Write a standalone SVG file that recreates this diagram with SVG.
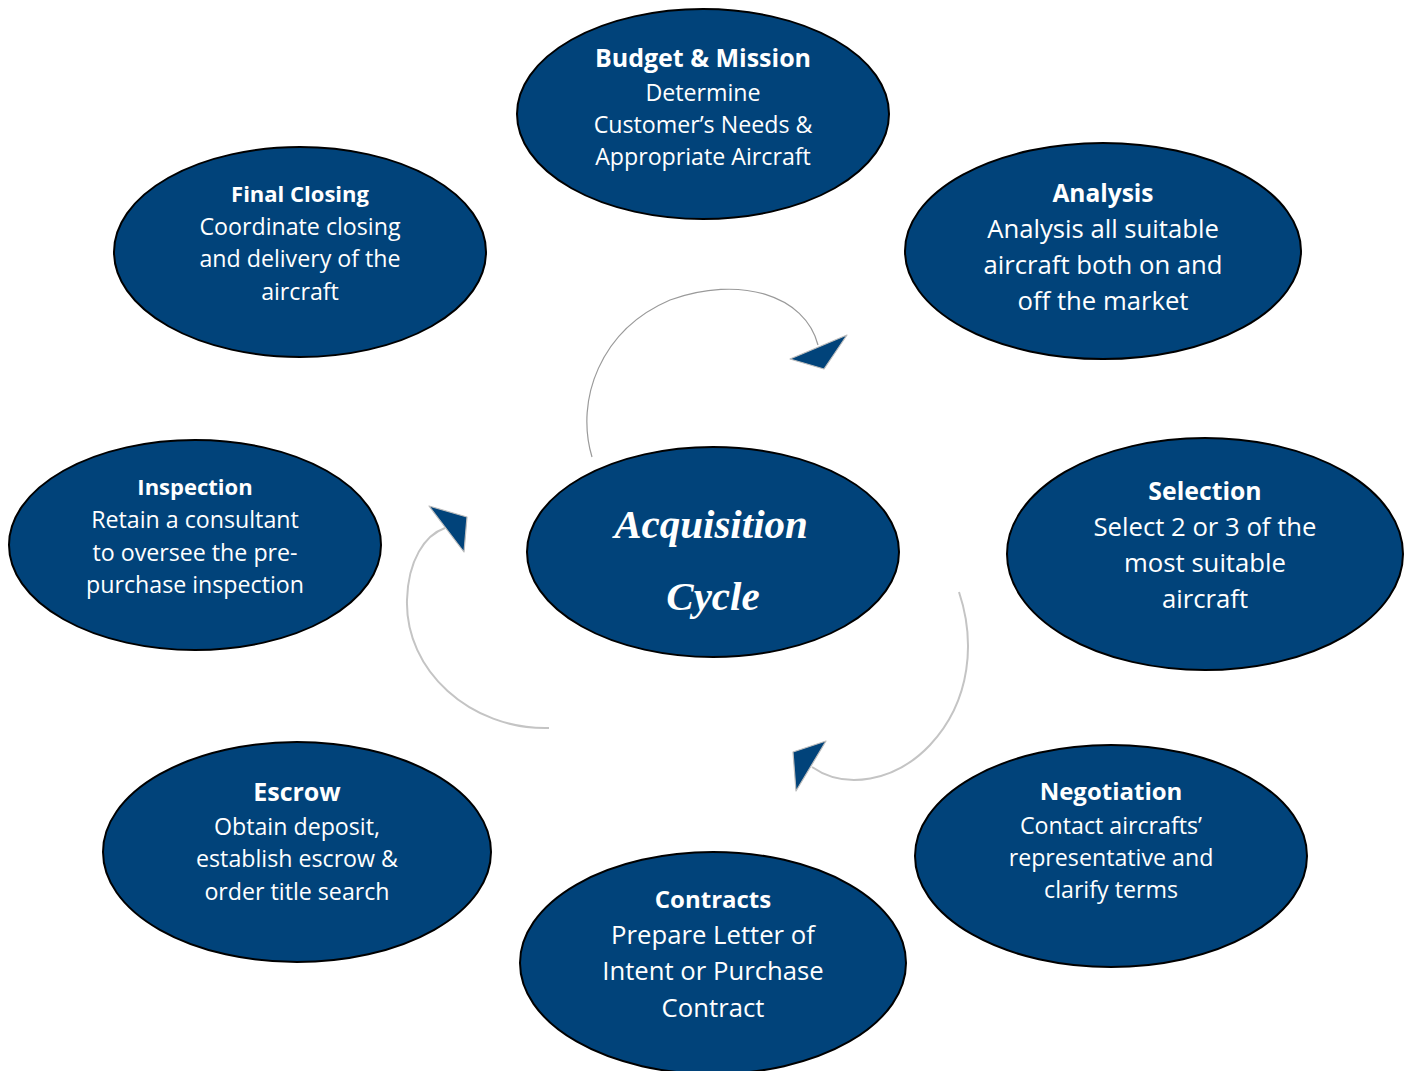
<svg xmlns="http://www.w3.org/2000/svg" width="1410" height="1071" viewBox="0 0 1410 1071">
<style>
.node{fill:#01437A;stroke:#000;stroke-width:2}
.t{font-family:"Open Sans",Lato,sans-serif;fill:#fff;text-anchor:middle}
.s{font-size:23.2px}
.m{font-size:25.7px}
.b{font-weight:bold}
.c{font-family:"Liberation Serif",serif;font-style:italic;font-weight:bold;font-size:41px;fill:#fff;text-anchor:middle}
.arc1{fill:none;stroke:#9a9a9a;stroke-width:1.2}
.arc2{fill:none;stroke:#c4c4c4;stroke-width:2}
.head{fill:#01437A;stroke:#bdbdbd;stroke-width:1.2;stroke-linejoin:round}
</style>
<rect width="1410" height="1071" fill="#fff"/>
<g id="connectors">
<path class="arc1" d="M592,457 C575,400 600,330 670,300 C740,275 805,295 818,345"/>
<polygon class="head" points="790,359 847,335 824,369"/>
<path class="arc2" d="M549,728 C470,730 405,670 407,600 C408,560 425,535 445,528"/>
<polygon class="head" points="429,506 467,517 464,552"/>
<path class="arc2" d="M959,592 C975,640 972,700 930,745 C895,782 845,790 812,767"/>
<polygon class="head" points="793,752 826,741 796,791"/>
</g>
<g id="budget">
<ellipse class="node" cx="703" cy="114" rx="186" ry="105"/>
<text class="t b" x="703" y="67" font-size="25">Budget &amp; Mission</text>
<text class="t s" x="703" y="101">Determine</text>
<text class="t s" x="703" y="133">Customer’s Needs &amp;</text>
<text class="t s" x="703" y="165">Appropriate Aircraft</text>
</g>
<g id="analysis">
<ellipse class="node" cx="1103" cy="251" rx="198" ry="108"/>
<text class="t b" x="1103" y="202" font-size="24.5">Analysis</text>
<text class="t m" x="1103" y="238">Analysis all suitable</text>
<text class="t m" x="1103" y="274">aircraft both on and</text>
<text class="t m" x="1103" y="310">off the market</text>
</g>
<g id="final-closing">
<ellipse class="node" cx="300" cy="252" rx="186" ry="105"/>
<text class="t b" x="300" y="202" font-size="22">Final Closing</text>
<text class="t s" x="300" y="235">Coordinate closing</text>
<text class="t s" x="300" y="267">and delivery of the</text>
<text class="t s" x="300" y="300">aircraft</text>
</g>
<g id="inspection">
<ellipse class="node" cx="195" cy="545" rx="186" ry="105"/>
<text class="t b" x="195" y="495" font-size="22">Inspection</text>
<text class="t s" x="195" y="528">Retain a consultant</text>
<text class="t s" x="195" y="561">to oversee the pre-</text>
<text class="t s" x="195" y="593">purchase inspection</text>
</g>
<g id="center">
<ellipse class="node" cx="713" cy="552" rx="186" ry="105"/>
<text class="c" x="711" y="538">Acquisition</text>
<text class="c" x="713" y="610">Cycle</text>
</g>
<g id="selection">
<ellipse class="node" cx="1205" cy="554" rx="198" ry="116"/>
<text class="t b" x="1205" y="500" font-size="24.8">Selection</text>
<text class="t m" x="1205" y="536">Select 2 or 3 of the</text>
<text class="t m" x="1205" y="572">most suitable</text>
<text class="t m" x="1205" y="608">aircraft</text>
</g>
<g id="escrow">
<ellipse class="node" cx="297" cy="852" rx="194" ry="110"/>
<text class="t b" x="297" y="801" font-size="25">Escrow</text>
<text class="t s" x="297" y="835">Obtain deposit,</text>
<text class="t s" x="297" y="867">establish escrow &amp;</text>
<text class="t s" x="297" y="900">order title search</text>
</g>
<g id="negotiation">
<ellipse class="node" cx="1111" cy="856" rx="196" ry="111"/>
<text class="t b" x="1111" y="800" font-size="24">Negotiation</text>
<text class="t s" x="1111" y="834">Contact aircrafts’</text>
<text class="t s" x="1111" y="866">representative and</text>
<text class="t s" x="1111" y="898">clarify terms</text>
</g>
<g id="contracts">
<ellipse class="node" cx="713" cy="963" rx="193" ry="111"/>
<text class="t b" x="713" y="908" font-size="24">Contracts</text>
<text class="t m" x="713" y="944">Prepare Letter of</text>
<text class="t m" x="713" y="980">Intent or Purchase</text>
<text class="t m" x="713" y="1017">Contract</text>
</g>
</svg>
